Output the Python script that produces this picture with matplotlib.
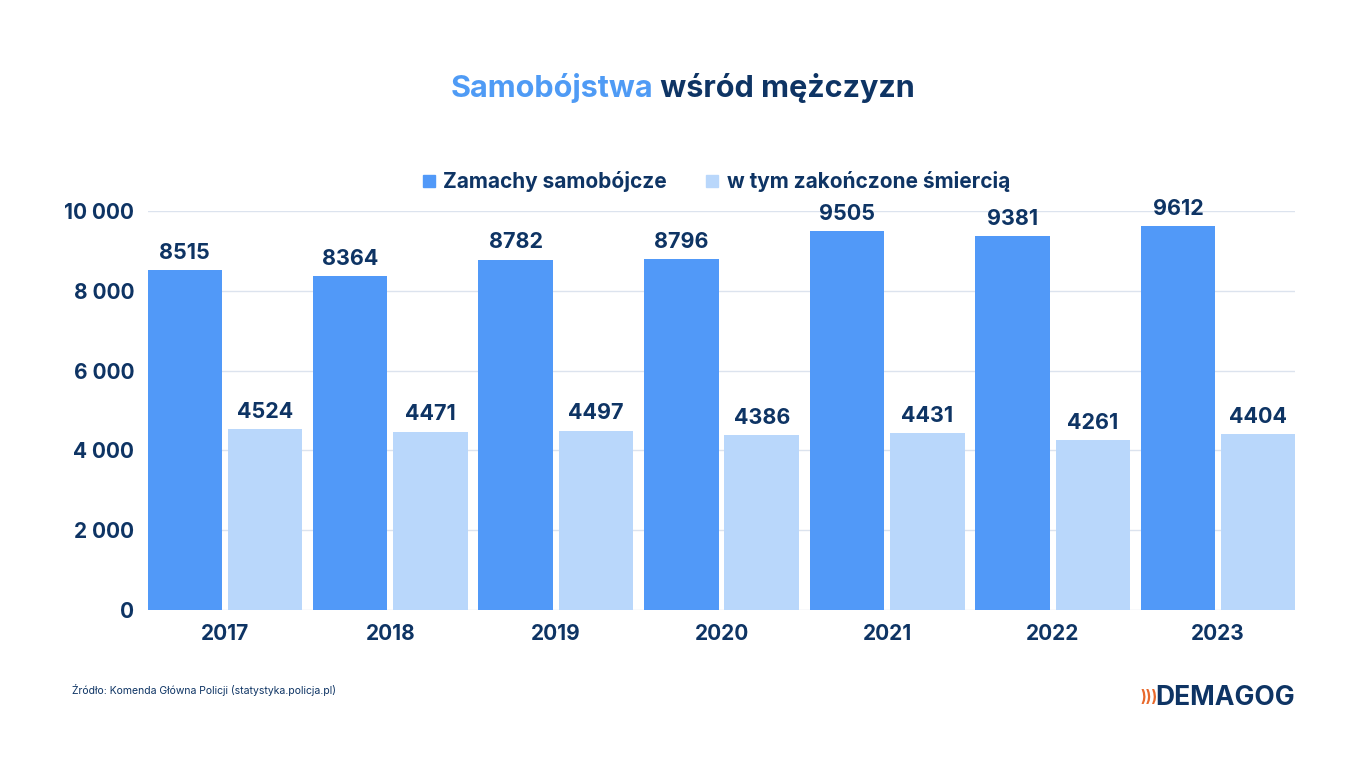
import matplotlib
matplotlib.use("Agg")
import matplotlib.pyplot as plt
import numpy as np

years = ["2017", "2018", "2019", "2020", "2021", "2022", "2023"]
attempts = [8515, 8364, 8782, 8796, 9505, 9381, 9612]
deaths = [4524, 4471, 4497, 4386, 4431, 4261, 4404]
yticks = [0, 2000, 4000, 6000, 8000, 10000]
ytick_labels = ["0", "2 000", "4 000", "6 000", "8 000", "10 000"]

C1, C2, TXT = "#5199F8", "#B9D7FB", "#0E3464"
plt.rcParams["font.family"] = "Inter"

fig = plt.figure(figsize=(13.66, 7.68), dpi=100)
ax = fig.add_axes([148/1366, 158/768, 1147/1366, 399/768])
x = np.arange(len(years))
w, gap = 0.45, 0.036
off = (w + gap) / 2
b1 = ax.bar(x - off, attempts, w, color=C1, zorder=3)
b2 = ax.bar(x + off, deaths, w, color=C2, zorder=3)
for bars, vals in ((b1, attempts), (b2, deaths)):
    for r, v in zip(bars, vals):
        ax.text(r.get_x() + r.get_width()/2, v + 180, str(v), ha="center", va="bottom",
                fontsize=15.5, fontweight="bold", color=TXT)
ax.set_xlim(-0.464, 6.464)
ax.set_ylim(0, 10000)
ax.set_yticks(yticks, ytick_labels)
ax.set_xticks(x, years)
ax.tick_params(length=0, labelsize=15, labelcolor=TXT, pad=10)
for t in ax.get_xticklabels() + ax.get_yticklabels():
    t.set_fontweight("bold")
ax.grid(axis="y", color="#DCE3EE", lw=1, zorder=0)
for s in ax.spines.values():
    s.set_visible(False)

tx = 0.5 - 30/1366
fig.text(tx, 1 - 88/768, "Samobójstwa", ha="right", va="center", fontsize=22,
         fontweight="bold", color="#4F9BF5")
fig.text(tx, 1 - 88/768, " wśród mężczyzn", ha="left", va="center", fontsize=22,
         fontweight="bold", color=TXT)

# legend
ly = 1 - 181/768
fig.patches.append(plt.Rectangle((423/1366, ly - 6/768), 12/1366, 12/768,
                                 transform=fig.transFigure, color=C1))
fig.text(443/1366, ly, "Zamachy samobójcze", va="center", fontsize=15,
         fontweight="bold", color=TXT)
fig.patches.append(plt.Rectangle((706/1366, ly - 6/768), 12/1366, 12/768,
                                 transform=fig.transFigure, color=C2))
fig.text(727/1366, ly, "w tym zakończone śmiercią", va="center", fontsize=15,
         fontweight="bold", color=TXT)

fig.text(72/1366, 1 - 690/768, "Źródło: Komenda Główna Policji (statystyka.policja.pl)",
         va="center", fontsize=7.5, color=TXT)
fig.text(1295/1366, 1 - 698/768, "DEMAGOG", ha="right", va="center", fontsize=19,
         fontweight="bold", color=TXT)
fig.text(1140/1366, 1 - 698/768, ")))", ha="left", va="center", fontsize=11,
         fontweight="bold", color="#E8692C")
fig.savefig("out.png", dpi=100, facecolor="white")
